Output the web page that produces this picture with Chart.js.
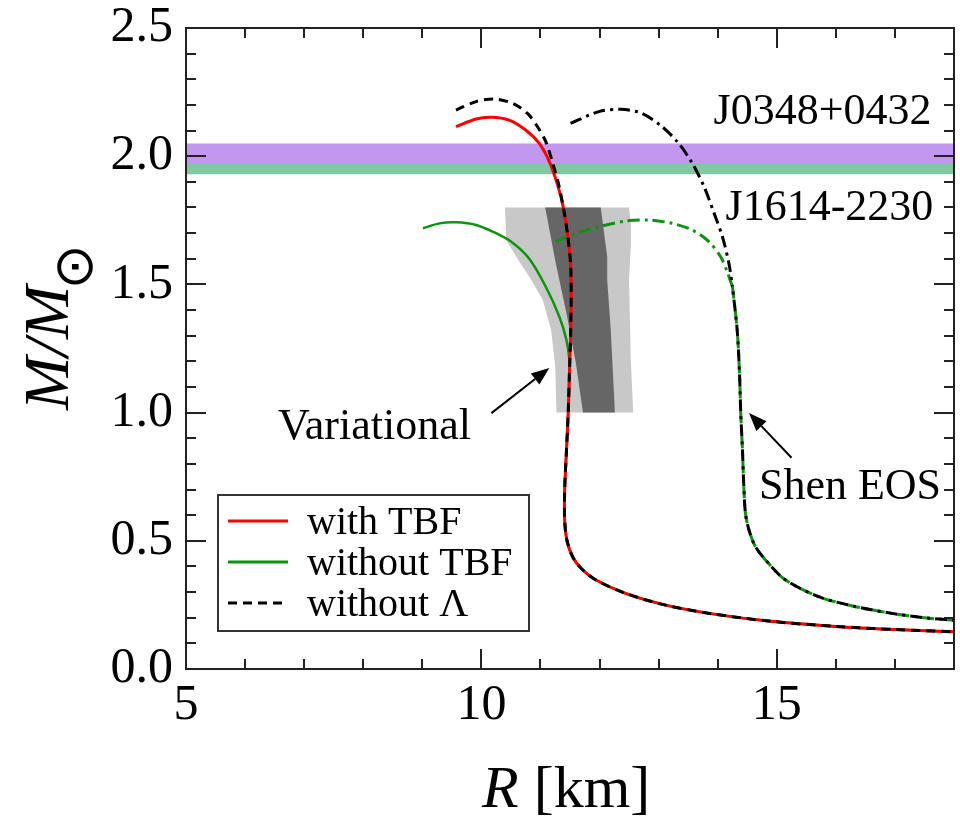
<!DOCTYPE html>
<html>
<head>
<meta charset="utf-8">
<script src="https://cdn.jsdelivr.net/npm/chart.js@4.4.1/dist/chart.umd.min.js"></script>
<style>
html, body { margin: 0; padding: 0; background: #fff; }
#wrap { width: 960px; height: 817px; }
</style>
</head>
<body>
<div id="wrap"><canvas id="chart-mr" width="960" height="817"></canvas></div>
<script>
// mass-radius curves, [R (km), M/Msun]
const withTbf = [[9.57,2.115],[9.91,2.145],[10.16,2.152],[10.47,2.141],[10.75,2.102],[10.98,2.05],[11.15,1.979],[11.29,1.888],[11.39,1.797],[11.46,1.693],[11.51,1.58],[11.52,1.45],[11.51,1.3],[11.49,1.15],[11.47,1.0],[11.44,0.85],[11.41,0.7],[11.41,0.58],[11.45,0.5],[11.55,0.435],[11.7,0.39],[11.94,0.347],[12.44,0.295],[13.1,0.25],[13.91,0.215],[14.9,0.186],[16.0,0.166],[17.0,0.154],[18.0,0.145]];
const withoutTbf = [[9.01,1.719],[9.29,1.738],[9.57,1.742],[9.91,1.732],[10.19,1.706],[10.5,1.667],[10.81,1.6],[11.09,1.491],[11.32,1.374],[11.44,1.283],[11.49,1.205],[11.49,1.15],[11.47,1.0],[11.44,0.85],[11.41,0.7],[11.41,0.58],[11.45,0.5],[11.55,0.435],[11.7,0.39],[11.94,0.347],[12.44,0.295],[13.1,0.25],[13.91,0.215],[14.9,0.186],[16.0,0.166],[17.0,0.154],[18.0,0.145]];
const withoutLambda = [[9.57,2.18],[9.91,2.213],[10.22,2.223],[10.53,2.206],[10.78,2.167],[10.95,2.115],[11.09,2.057],[11.2,1.979],[11.31,1.888],[11.39,1.797],[11.46,1.693],[11.51,1.58],[11.52,1.45],[11.51,1.3],[11.49,1.15],[11.47,1.0],[11.44,0.85],[11.41,0.7],[11.41,0.58],[11.45,0.5],[11.55,0.435],[11.7,0.39],[11.94,0.347],[12.44,0.295],[13.1,0.25],[13.91,0.215],[14.9,0.186],[16.0,0.166],[17.0,0.154],[18.0,0.145]];
// Shen EOS: upper branches differ, the low-mass tail is shared
const shenHyperonTop = [[11.26,1.667],[11.6,1.699],[11.99,1.725],[12.44,1.747],[12.84,1.751],[13.23,1.738],[13.57,1.712],[13.85,1.667],[14.05,1.608],[14.16,1.55],[14.25,1.491]];
const shenNoLambdaTop = [[11.51,2.128],[11.99,2.174],[12.36,2.183],[12.72,2.167],[13.06,2.115],[13.34,2.05],[13.57,1.972],[13.77,1.881],[13.94,1.777],[14.08,1.686],[14.19,1.582],[14.25,1.491]];
const shenTail = [[14.25,1.491],[14.33,1.322],[14.37,1.15],[14.39,1.0],[14.42,0.85],[14.44,0.725],[14.47,0.607],[14.53,0.542],[14.64,0.477],[14.86,0.412],[15.15,0.347],[15.71,0.282],[16.3,0.245],[16.95,0.217],[17.5,0.2],[18.0,0.19]];

// observational constraint regions (outline, clockwise)
const regionOuter = [[10.40,1.8],[10.42,1.673],[10.59,1.608],[10.81,1.53],[11.04,1.439],[11.18,1.322],[11.25,1.179],[11.27,1.0],[12.57,1.0],[12.53,1.2],[12.5,1.517],[12.53,1.65],[12.53,1.738],[12.5,1.8]];
const regionInner = [[11.08,1.8],[11.26,1.582],[11.44,1.387],[11.6,1.192],[11.72,1.0],[12.26,1.0],[12.19,1.322],[12.13,1.517],[12.13,1.608],[12.02,1.8]];

// pulsar masses
const pulsarNames = ['J0348+0432', 'J1614-2230'];
const pulsarMass = [2.01, 1.97];
const pulsarErr = [0.04, 0.04];

const xRange = [5, 18];
const yRange = [0, 2.5];
const xMajor = [5, 10, 15];
const yMajor = [0, 0.5, 1.0, 1.5, 2.0, 2.5];

const RED = '#ff0000';
const GREEN = '#0a960a';
const DASH_DOT = [12, 5, 3, 5];
const serif = '"Liberation Serif", "Times New Roman", serif';

const pts = arr => arr.map(p => ({ x: p[0], y: p[1] }));

function band(i) {
    const lo = pulsarMass[i] - pulsarErr[i];
    const hi = pulsarMass[i] + pulsarErr[i];
    return pts([[xRange[0], lo], [xRange[1], lo], [xRange[1], hi], [xRange[0], hi]]);
}

const annotations = [
    { text: pulsarNames[0], r: 17.62, m: 2.172, align: 'right' },
    { text: pulsarNames[1], r: 17.65, m: 1.798, align: 'right' },
    { text: 'Variational', r: 8.19, m: 0.944, align: 'center' },
    { text: 'Shen EOS', r: 16.24, m: 0.71, align: 'center' }
];
const arrows = [
    { from: [10.17, 0.998], to: [11.15, 1.174] },
    { from: [15.25, 0.824], to: [14.53, 0.998] }
];
const legendItems = [
    { label: 'with TBF', color: RED, dash: [] },
    { label: 'without TBF', color: GREEN, dash: [] },
    { label: 'without \u039B', color: '#000', dash: [9, 6] }
];

function line(data, color, width, dash, offset, order) {
    return {
        data: pts(data), showLine: true, borderColor: color, borderWidth: width,
        borderDash: dash, borderDashOffset: offset, pointRadius: 0, fill: false,
        tension: 0.3, order: order
    };
}
function area(data, color, order) {
    return {
        data: data, showLine: true, borderColor: 'transparent', borderWidth: 0,
        backgroundColor: color, pointRadius: 0, fill: 'shape', tension: 0, order: order
    };
}

const decorations = {
    id: 'decorations',
    afterDatasetsDraw(chart) {
        const ctx = chart.ctx;
        const { left, right, top, bottom } = chart.chartArea;
        const xs = chart.scales.x, ys = chart.scales.y;
        ctx.save();

        // frame + inward ticks on all four sides
        ctx.strokeStyle = '#222';
        ctx.lineWidth = 2;
        ctx.strokeRect(left, top, right - left, bottom - top);
        ctx.beginPath();
        for (let r = xRange[0]; r <= xRange[1]; r++) {
            const px = Math.round(xs.getPixelForValue(r));
            const len = xMajor.includes(r) ? 20 : 10;
            ctx.moveTo(px, bottom); ctx.lineTo(px, bottom - len);
            ctx.moveTo(px, top); ctx.lineTo(px, top + len);
        }
        for (let i = 0; i <= 25; i++) {
            const py = Math.round(ys.getPixelForValue(i / 10));
            const len = i % 5 === 0 ? 20 : 10;
            ctx.moveTo(left, py); ctx.lineTo(left + len, py);
            ctx.moveTo(right, py); ctx.lineTo(right - len, py);
        }
        ctx.stroke();

        // text labels
        ctx.fillStyle = '#000';
        ctx.font = '44px ' + serif;
        ctx.textBaseline = 'middle';
        annotations.forEach(a => {
            ctx.textAlign = a.align;
            ctx.fillText(a.text, xs.getPixelForValue(a.r), ys.getPixelForValue(a.m));
        });

        // arrows
        ctx.strokeStyle = '#000';
        ctx.lineWidth = 2;
        arrows.forEach(a => {
            const x1 = xs.getPixelForValue(a.from[0]), y1 = ys.getPixelForValue(a.from[1]);
            const x2 = xs.getPixelForValue(a.to[0]), y2 = ys.getPixelForValue(a.to[1]);
            const ang = Math.atan2(y2 - y1, x2 - x1);
            const hl = 18, hw = 7;
            const bx = x2 - hl * Math.cos(ang), by = y2 - hl * Math.sin(ang);
            ctx.beginPath();
            ctx.moveTo(x1, y1); ctx.lineTo(bx, by);
            ctx.stroke();
            ctx.beginPath();
            ctx.moveTo(x2, y2);
            ctx.lineTo(bx + hw * Math.sin(ang), by - hw * Math.cos(ang));
            ctx.lineTo(bx - hw * Math.sin(ang), by + hw * Math.cos(ang));
            ctx.closePath();
            ctx.fill();
        });

        // legend box
        const lx = left + 32, ly = bottom - 174;
        ctx.fillStyle = '#fff';
        ctx.fillRect(lx, ly, 311, 136);
        ctx.strokeStyle = '#333';
        ctx.lineWidth = 2;
        ctx.strokeRect(lx, ly, 311, 136);
        ctx.font = '40px ' + serif;
        ctx.textAlign = 'left';
        legendItems.forEach((it, i) => {
            const y = ly + 26 + i * 41;
            ctx.strokeStyle = it.color;
            ctx.lineWidth = 3;
            ctx.setLineDash(it.dash);
            ctx.beginPath();
            ctx.moveTo(lx + 10, y); ctx.lineTo(lx + 70, y);
            ctx.stroke();
            ctx.setLineDash([]);
            ctx.fillStyle = '#000';
            ctx.fillText(it.label, lx + 89, y + 2);
        });
        ctx.restore();
    },
    afterDraw(chart) {
        const ctx = chart.ctx;
        ctx.save();
        ctx.fillStyle = '#000';
        ctx.textBaseline = 'alphabetic';
        // x title: R [km]
        ctx.textAlign = 'left';
        ctx.font = 'italic 60px ' + serif;
        ctx.fillText('R', 482, 807);
        const rw = ctx.measureText('R').width;
        ctx.font = '60px ' + serif;
        ctx.fillText(' [km]', 482 + rw, 807);
        // y title: M/M_sun
        ctx.translate(68, 410);
        ctx.rotate(-Math.PI / 2);
        ctx.font = 'italic 64px ' + serif;
        ctx.fillText('M/M', 0, 0);
        ctx.font = '54px "DejaVu Sans", sans-serif';
        ctx.textAlign = 'center';
        ctx.textBaseline = 'middle';
        ctx.fillText('\u2299', 143, 10);
        ctx.restore();
    }
};

const ctx = document.getElementById('chart-mr').getContext('2d');
const chart = new Chart(ctx, {
    type: 'scatter',
    data: {
        datasets: [
            line(withoutLambda, '#000', 3, [9, 6], 0, 0),
            line(shenNoLambdaTop, '#000', 3, DASH_DOT, 0, 1),
            line(shenTail, '#000', 3, DASH_DOT, 12, 1),
            line(withTbf, RED, 3, [], 0, 2),
            line(shenHyperonTop, GREEN, 3, DASH_DOT, 0, 3),
            line(shenTail, GREEN, 3, DASH_DOT, 0, 3),
            line(withoutTbf, GREEN, 2.5, [], 0, 4),
            area(pts(regionInner), '#666666', 5),
            area(pts(regionOuter), '#c8c8c8', 6),
            area(band(0), '#c197ef', 7),
            area(band(1), '#80c8a0', 8)
        ]
    },
    options: {
        responsive: false,
        animation: false,
        events: [],
        layout: { padding: { top: 28, right: 6, left: 0, bottom: 0 } },
        plugins: { legend: { display: false }, tooltip: { enabled: false } },
        scales: {
            x: {
                min: xRange[0], max: xRange[1],
                grid: { display: false, drawTicks: false },
                border: { display: false },
                ticks: {
                    stepSize: 1, autoSkip: false, maxRotation: 0, padding: 12,
                    color: '#000', font: { family: serif, size: 50, lineHeight: 1 },
                    callback: v => xMajor.includes(v) ? String(v) : ''
                },
                afterFit: s => { s.height = 148; s.paddingLeft = 0; s.paddingRight = 0; }
            },
            y: {
                min: yRange[0], max: yRange[1],
                grid: { display: false, drawTicks: false },
                border: { display: false },
                ticks: {
                    stepSize: 0.1, autoSkip: false, padding: 13,
                    color: '#000', font: { family: serif, size: 50, lineHeight: 1 },
                    callback: v => yMajor.some(t => Math.abs(t - v) < 1e-6) ? v.toFixed(1) : ''
                },
                afterFit: s => { s.width = 186; s.paddingTop = 0; s.paddingBottom = 0; }
            }
        }
    },
    plugins: [decorations]
});
</script>
</body>
</html>
